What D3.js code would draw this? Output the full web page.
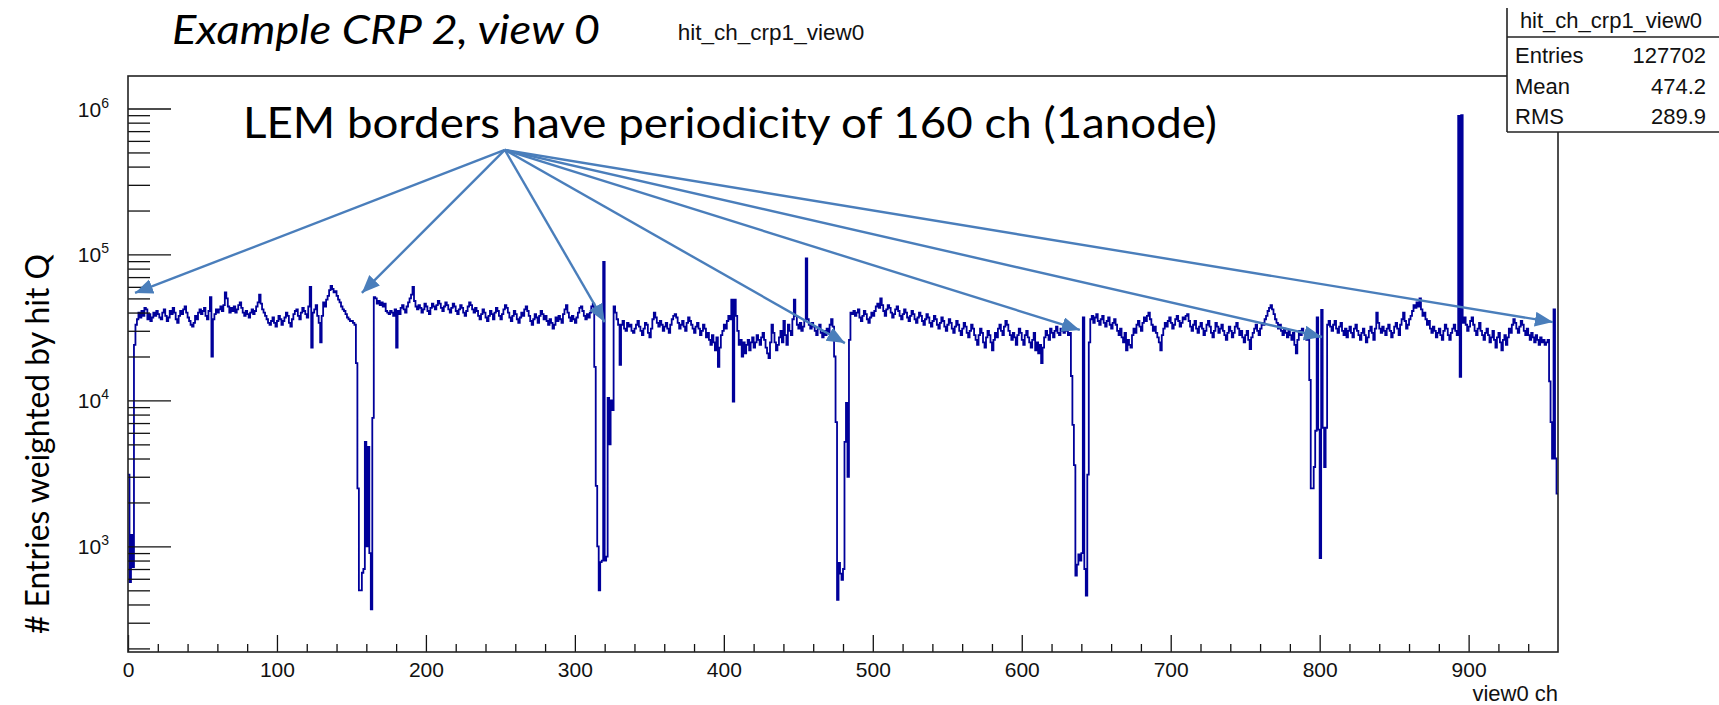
<!DOCTYPE html>
<html><head><meta charset="utf-8">
<script src="https://cdn.jsdelivr.net/npm/d3@7"></script>
<style>
html,body{margin:0;padding:0;background:#fff;}
svg{display:block;}
</style></head>
<body>
<svg id="chart" width="1719" height="705"></svg>
<script>
// ---------------- data ----------------
// hit_ch_crp1_view0 : entries weighted by hit Q per channel (values in thousands), channels 0..959
const channelCountsK = [
 3.1,0.57,1.2,0.72,24,33,36,40,37,41,38,43,42,36,39,35,37,40,38,41,          // 0-19
 39,37,36,40,42,38,35,37,41,39,43,40,36,34,38,41,39,42,44,40,                 // 20-39
 37,35,33,32,34,38,36,40,42,39,41,43,38,36,41,51,20,36,39,42,                 // 40-59
 40,42,44,41,45,55,50,44,40,43,41,44,40,42,45,47,43,40,38,41,                 // 60-79
 39,37,40,42,39,41,44,47,53,46,42,40,38,36,34,33,35,37,34,32,                 // 80-99
 35,38,36,33,35,37,40,38,34,32,36,39,41,42,38,36,40,43,41,39,                 // 100-119
 37,44,60,23,40,42,45,38,34,25,38,47,44,49,52,57,61,58,55,56,                 // 120-139
 52,49,47,44,42,41,39,37,36,35,35,34,33,18,2.5,0.5,0.5,0.66,0.7,5.2,          // 140-159
 1.0,4.8,0.9,0.37,7.6,51,50,46,48,45,47,44,46,41,40,39,41,40,38,42,           // 160-179
 23,41,39,43,45,42,40,44,47,50,53,60,48,44,42,45,43,40,42,46,                 // 180-199
 44,41,39,43,46,44,42,45,48,46,43,41,44,47,45,42,40,43,46,44,                 // 200-219
 41,39,42,45,43,40,38,41,44,47,45,42,40,43,41,38,36,39,42,40,                 // 220-239
 37,35,38,41,39,36,40,43,41,38,36,39,42,45,43,40,37,35,38,41,                 // 240-259
 39,36,34,37,40,38,42,44,41,38,35,33,36,39,37,34,38,41,39,36,                 // 260-279
 38,35,33,36,34,31,33,37,35,38,36,34,39,42,45,40,37,35,38,36,                 // 280-299
 34,37,40,43,44,41,38,36,39,37,40,44,46,17,2.6,1.0,0.5,0.78,0.8,89,           // 300-319
 0.8,0.85,10.4,5.0,10,8.6,44,40,36,33,17.5,33,35,31,30,34,32,33,30,29,        // 320-339
 31,33,35,32,30,28,31,34,33,29,27,31,36,40,37,34,32,35,33,30,                 // 340-359
 32,34,31,29,33,36,38,39,37,34,31,33,35,32,30,34,37,35,33,31,                 // 360-379
 29,32,34,31,28,30,33,31,27,29,26,24,28,25,22,27,17,23,28,30,                 // 380-399
 33,31,35,38,36,49,9.8,49,38,30,24,26,20,25,21,24,26,22,25,27,                // 400-419
 23,25,28,26,24,27,29,26,23,21,19.5,25,33,29,25,22,24,27,30,25,               // 420-439
 35,28,24,33,30,28,36,49,38,33,31,34,30,32,35,94,36,33,31,34,                 // 440-459
 32,30,28,31,33,29,27,30,28,31,29,33,36,32,20,7.1,0.43,0.77,0.65,0.59,        // 460-479
 0.7,5.2,9.6,3.0,26,40,39,41,38,40,42,37,35,38,41,39,36,34,37,40,             // 480-499
 38,41,44,46,43,50,45,41,38,42,45,43,40,37,39,42,44,41,38,36,                 // 500-519
 39,42,40,37,35,38,41,39,36,34,37,40,38,35,33,36,39,37,34,32,                 // 520-539
 35,38,36,33,31,34,37,35,32,30,33,36,34,31,29,32,35,33,30,28,                 // 540-559
 31,34,32,29,27,30,33,31,28,26,24,28,31,29,25,23,27,30,28,25,                 // 560-579
 22,26,29,27,31,33,30,28,32,35,33,30,28,26,29,27,24,28,31,29,                 // 580-599
 26,24,28,30,27,25,23,26,29,22,25,21,24,18,23,27,30,28,26,31,                 // 600-619
 29,27,30,32,29,28,31,30,29,31,30,28,29,14.7,6.8,3.6,0.63,0.75,0.88,0.8,      // 620-639
 0.9,37,0.7,0.46,3.1,25,36,38,34,37,39,35,33,36,38,34,32,35,37,33,            // 640-659
 31,34,36,33,30,28,31,27,25,29,22,26,24,23,28,31,29,33,35,32,                 // 660-679
 30,34,37,35,38,40,36,33,30,32,29,27,25,22,28,31,34,32,35,37,                 // 680-699
 34,31,33,36,38,35,32,34,37,36,38,39,35,32,30,33,35,31,29,32,                 // 700-719
 34,31,28,30,33,35,32,29,27,30,34,32,29,31,33,30,28,26,29,32,                 // 720-739
 30,27,29,32,34,31,28,30,27,25,28,30,26,22.5,27,29,31,33,30,28,               // 740-759
 31,34,33,36,38,41,43,45,42,39,36,34,31,33,30,28,31,29,27,30,                 // 760-779
 28,26,29,24,21,26,30,28,31,29,27,26,26,13.8,2.5,2.5,3.5,6.2,37,6.3,          // 780-799
 0.83,41.7,6.5,3.5,6.5,33,35,32,30,33,35,31,29,32,34,30,28,31,27,30,          // 800-819
 32,29,27,31,33,30,28,26,29,31,28,25,27,30,32,29,26,31,40,34,                 // 820-839
 31,29,32,30,28,31,33,30,27,29,32,34,31,28,33,36,40,35,31,33,                 // 840-859
 36,38,41,45,43,47,44,50,42,38,40,36,33,35,31,29,32,30,27,29,                 // 860-879
 31,28,26,30,33,31,28,26,29,31,33,30,28,890,14.5,900,34,37,33,30,             // 880-899
 32,35,37,33,30,28,31,34,30,28,26,29,31,28,25,27,30,26,23,27,                 // 900-919
 29,25,22,26,28,24,27,31,29,33,36,34,31,29,32,35,33,30,28,31,                 // 920-939
 28,26,29,27,25,28,26,24,27,25,26,24,25,26,13.5,7.1,4,42,4,2.3                // 940-959
];
const xMajorTicks = [0,100,200,300,400,500,600,700,800,900];
const xMinorStep = 20;
const yDecadeExponents = [3,4,5,6];
const yMinorMantissas = [2,3,4,5,6,7,8,9];
const histName = "hit_ch_crp1_view0";
const statsLabels = ["Entries","Mean","RMS"];
const statsValues = ["127702","474.2","289.9"];
const slideTitle = "Example CRP 2, view 0";
const annotationText = "LEM borders have periodicity of 160 ch (1anode)";
const yAxisTitle = "# Entries weighted by hit Q";
const xAxisTitle = "view0 ch";
// arrows: common origin and tips at LEM borders (channel, value)
const arrowOrigin = {ch: 253, value: 5.2e5};
const arrowTipCh    = [4.7, 157, 320, 481.3, 639, 801.6, 956.6];
const arrowTipValue = [5.45e4, 5.45e4, 3.44e4, 2.47e4, 3.04e4, 2.72e4, 3.44e4];

// ---------------- layout ----------------
const plot = {left:128, right:1558, top:76, bottom:652};
const svg = d3.select("#chart");
svg.append("rect").attr("width",1719).attr("height",705).attr("fill","#fff");

const x = d3.scaleLinear().domain([0, channelCountsK.length]).range([plot.left, plot.right]);
const y = d3.scaleLog().domain([189, 1.67e6]).range([plot.bottom, plot.top]);

const helv = "'Liberation Sans', Arial, Helvetica, sans-serif";
const cal = "Lato, 'Open Sans', sans-serif";

// clip
svg.append("clipPath").attr("id","clip").append("rect")
  .attr("x",plot.left).attr("y",plot.top).attr("width",plot.right-plot.left).attr("height",plot.bottom-plot.top);

// histogram step line
const pts = channelCountsK.map((v,i)=>[i, v*1000]);
pts.push([channelCountsK.length, channelCountsK[channelCountsK.length-1]*1000]);
const line = d3.line().x(d=>x(d[0])).y(d=>y(d[1])).curve(d3.curveStepAfter);
svg.append("path").attr("d", line(pts)).attr("fill","none")
  .attr("stroke","#00009a").attr("stroke-width",1.8).attr("clip-path","url(#clip)");

// x axis ticks
const xMinor = d3.range(0, channelCountsK.length, xMinorStep).filter(v=>v%100!==0);
const gxMinor = svg.append("g").attr("transform",`translate(0,${plot.bottom})`)
  .call(d3.axisBottom(x).tickValues(xMinor).tickSize(-8).tickFormat(""));
const gxMajor = svg.append("g").attr("transform",`translate(0,${plot.bottom})`)
  .call(d3.axisBottom(x).tickValues(xMajorTicks).tickSize(-17).tickPadding(10).tickFormat(d3.format("d")));
[gxMinor,gxMajor].forEach(g=>{g.select(".domain").remove(); g.selectAll("line").attr("stroke","#111").attr("stroke-width",1.3);});
gxMajor.selectAll("text").attr("font-family",helv).attr("font-size",21).attr("fill","#111");

// y axis ticks
const yMajors = yDecadeExponents.map(e=>Math.pow(10,e));
const yMinors = [];
[2,3,4,5].forEach(e=>yMinorMantissas.forEach(m=>{const v=m*Math.pow(10,e); if(v>=189 && v<=1.67e6) yMinors.push(v);}));
const gyMinor = svg.append("g").attr("transform",`translate(${plot.left},0)`)
  .call(d3.axisLeft(y).tickValues(yMinors).tickSize(-22).tickFormat(""));
const gyMajor = svg.append("g").attr("transform",`translate(${plot.left},0)`)
  .call(d3.axisLeft(y).tickValues(yMajors).tickSize(-43).tickFormat(""));
[gyMinor,gyMajor].forEach(g=>{g.select(".domain").remove(); g.selectAll("line").attr("stroke","#111").attr("stroke-width",1.3);});
// y labels with superscripts
yDecadeExponents.forEach(e=>{
  const t = svg.append("text").attr("x",109).attr("y",y(Math.pow(10,e))+8)
    .attr("text-anchor","end").attr("font-family",helv).attr("font-size",21).attr("fill","#111");
  t.append("tspan").text("10");
  t.append("tspan").attr("dy",-9).attr("font-size",14).text(e);
});

// frame
svg.append("rect").attr("x",plot.left).attr("y",plot.top)
  .attr("width",plot.right-plot.left).attr("height",plot.bottom-plot.top)
  .attr("fill","none").attr("stroke","#222").attr("stroke-width",1.6);

// x axis title
svg.append("text").attr("x",plot.right).attr("y",701).attr("text-anchor","end")
  .attr("font-family",helv).attr("font-size",22).attr("fill","#111").text(xAxisTitle);

// histogram title
svg.append("text").attr("x",771).attr("y",40).attr("text-anchor","middle")
  .attr("font-family",helv).attr("font-size",22.5).attr("fill","#111").text(histName);

// stats box
const sb = svg.append("g");
sb.append("rect").attr("x",1507).attr("y",8).attr("width",214).attr("height",124).attr("fill","#fff").attr("stroke","none");
sb.append("line").attr("x1",1507).attr("x2",1507).attr("y1",8).attr("y2",132).attr("stroke","#222").attr("stroke-width",1.6);
sb.append("line").attr("x1",1507).attr("x2",1719).attr("y1",132).attr("y2",132).attr("stroke","#222").attr("stroke-width",1.6);
sb.append("line").attr("x1",1507).attr("x2",1719).attr("y1",37).attr("y2",37).attr("stroke","#222").attr("stroke-width",1.6);
sb.append("text").attr("x",1611).attr("y",28).attr("text-anchor","middle")
  .attr("font-family",helv).attr("font-size",22).attr("fill","#111").text(histName);
statsLabels.forEach((lab,i)=>{
  const by = 63 + i*30.5;
  sb.append("text").attr("x",1515).attr("y",by).attr("font-family",helv).attr("font-size",22).attr("fill","#111").text(lab);
  sb.append("text").attr("x",1706).attr("y",by).attr("text-anchor","end").attr("font-family",helv).attr("font-size",22).attr("fill","#111").text(statsValues[i]);
});

// slide title
svg.append("text").attr("x",172).attr("y",44).attr("font-family",cal).attr("font-style","italic")
  .attr("font-size",41).attr("fill","#000").attr("textLength",428).attr("lengthAdjust","spacingAndGlyphs").text(slideTitle);

// y axis title
svg.append("text").attr("transform","translate(49,444) rotate(-90)").attr("text-anchor","middle")
  .attr("font-family",cal).attr("font-size",32).attr("fill","#000")
  .attr("textLength",380).attr("lengthAdjust","spacingAndGlyphs").text(yAxisTitle);

// annotation text
svg.append("text").attr("x",243).attr("y",138).attr("font-family",cal).attr("font-size",43)
  .attr("fill","#000").attr("textLength",974).attr("lengthAdjust","spacingAndGlyphs").text(annotationText);

// arrows
const defs = svg.append("defs");
defs.append("marker").attr("id","ah").attr("markerUnits","userSpaceOnUse")
  .attr("markerWidth",20).attr("markerHeight",16).attr("refX",18).attr("refY",7.5).attr("orient","auto")
  .append("path").attr("d","M0,0 L18,7.5 L0,15 Z").attr("fill","#4a7ebb");
const ox = x(arrowOrigin.ch), oy = y(arrowOrigin.value);
arrowTipCh.forEach((c,i)=>{
  const tx = x(c), ty = y(arrowTipValue[i]);
  svg.append("line").attr("x1",ox).attr("y1",oy).attr("x2",tx).attr("y2",ty)
    .attr("stroke","#4a7ebb").attr("stroke-width",2.4).attr("marker-end","url(#ah)");
});
</script>
</body></html>
